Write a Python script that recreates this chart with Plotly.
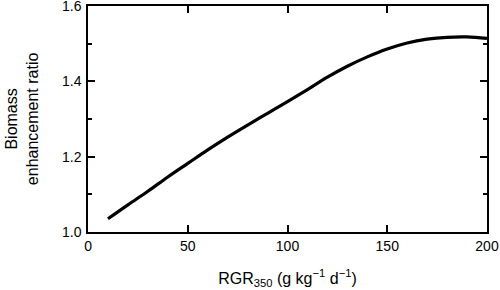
import plotly.graph_objects as go

rgr = [10, 20, 30, 40, 50, 60, 70, 80, 90, 100, 110, 120, 130, 140, 150, 160, 170, 180, 190, 200]
ratio = [1.035, 1.072, 1.108, 1.146, 1.182, 1.218, 1.252, 1.284, 1.315, 1.346, 1.378, 1.411, 1.440, 1.465, 1.486, 1.502, 1.512, 1.517, 1.518, 1.514]

x_ticks = [0, 50, 100, 150, 200]
y_ticks = [1.0, 1.2, 1.4, 1.6]

fig = go.Figure()
fig.add_trace(go.Scatter(x=rgr, y=ratio, mode="lines",
                         line=dict(color="black", width=3.2, shape="spline"),
                         showlegend=False))

font = dict(family="Liberation Sans, Arial, sans-serif", color="black")

fig.update_layout(
    width=500, height=290,
    margin=dict(l=88, r=13, t=6, b=58, autoexpand=False),
    paper_bgcolor="white", plot_bgcolor="white",
    font=dict(size=14, **font),
    xaxis=dict(range=[-0.01, 200.01], tickvals=x_ticks, ticktext=[str(v) for v in x_ticks],
               ticks="inside", ticklen=7, tickwidth=1.5, tickcolor="black",
               showline=True, linecolor="black", linewidth=1.5, mirror="ticks",
               showgrid=False, zeroline=False, tickfont=dict(size=14, **font), automargin=False,
               ticklabeloverflow="allow",
               title=dict(text="RGR<sub>350</sub> (g kg<sup>−1</sup> d<sup>−1</sup>)",
                          font=dict(size=16, **font), standoff=20)),
    yaxis=dict(range=[0.9999, 1.6001], tickvals=y_ticks, ticktext=["1.0", "1.2", "1.4", "1.6"],
               ticks="inside", ticklen=7, tickwidth=1.5, tickcolor="black",
               minor=dict(dtick=0.1, tick0=1.0, ticks="inside", ticklen=4, tickwidth=1.5, tickcolor="black"),
               showline=True, linecolor="black", linewidth=1.5, mirror="ticks", automargin=False,
               ticklabeloverflow="allow",
               showgrid=False, zeroline=False, tickfont=dict(size=14, **font), ticklabelstandoff=2),
)

fig.add_annotation(text="Biomass<br>enhancement ratio", textangle=-90,
                   xref="paper", yref="paper", x=-0.165, y=0.5, xanchor="center", yanchor="middle",
                   showarrow=False, font=dict(size=16, **font))

fig.write_html("out.html", config={"displayModeBar": False},
               post_script="document.body.style.margin='0';document.body.style.overflow='hidden';")
